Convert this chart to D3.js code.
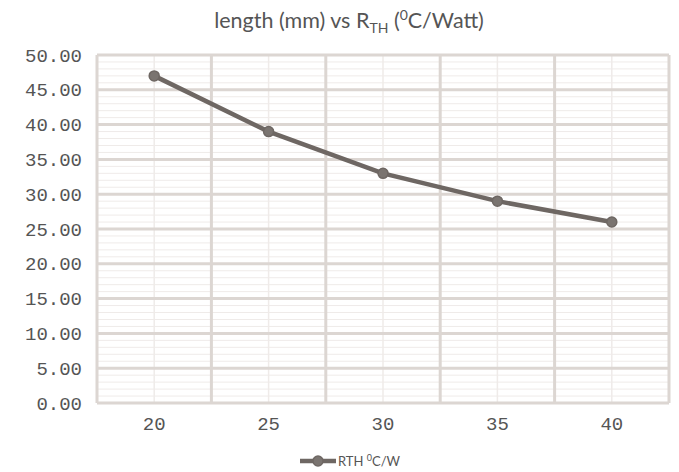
<!DOCTYPE html>
<html>
<head>
<meta charset="utf-8">
<script src="https://cdn.jsdelivr.net/npm/d3@7"></script>
<style>
  body { margin: 0; background: #fff; }
</style>
</head>
<body>
<svg id="chart" width="679" height="472"></svg>
<script>
// values
const lengths = ['20', '25', '30', '35', '40'];
const rthValues = [47, 39, 33, 29, 26];
const yTicks = [0, 5, 10, 15, 20, 25, 30, 35, 40, 45, 50];
const seriesName = 'RTH';

const svg = d3.select('#chart');
const margin = {top: 55, right: 10, bottom: 68, left: 97};
const width = +svg.attr('width');
const height = +svg.attr('height');
const innerWidth = width - margin.left - margin.right;
const innerHeight = height - margin.top - margin.bottom - 1;
const monoFont = "'Liberation Mono', 'DejaVu Sans Mono', monospace";

const g = svg.append('g')
    .attr('transform', `translate(${margin.left}, ${margin.top})`);

const xScale = d3.scaleBand().domain(lengths).range([0, innerWidth]);
const yScale = d3.scaleLinear().domain([0, 50]).range([innerHeight, 0]);

// minor horizontal grid (every 1)
g.selectAll('.minor-h').data(d3.range(0, 51, 1).filter(v => v % 5 !== 0))
  .enter().append('line')
    .attr('x1', 0).attr('x2', innerWidth)
    .attr('y1', d => yScale(d)).attr('y2', d => yScale(d))
    .attr('stroke', '#efebe9').attr('stroke-width', 1);

// thin vertical lines at category centres
g.selectAll('.minor-v').data(lengths)
  .enter().append('line')
    .attr('x1', d => xScale(d) + xScale.bandwidth() / 2)
    .attr('x2', d => xScale(d) + xScale.bandwidth() / 2)
    .attr('y1', 0).attr('y2', innerHeight)
    .attr('stroke', '#efebe9').attr('stroke-width', 1.5);

// major horizontal grid
g.selectAll('.major-h').data(yTicks)
  .enter().append('line')
    .attr('x1', 0).attr('x2', innerWidth)
    .attr('y1', d => yScale(d)).attr('y2', d => yScale(d))
    .attr('stroke', '#dcd6d2').attr('stroke-width', 3);

// vertical lines at category boundaries
const bounds = lengths.map(d => xScale(d)).concat([innerWidth]);
g.selectAll('.major-v').data(bounds)
  .enter().append('line')
    .attr('x1', d => d).attr('x2', d => d)
    .attr('y1', 0).attr('y2', innerHeight)
    .attr('stroke', '#dcd6d2').attr('stroke-width', 3);

// y axis labels
const yAxis = d3.axisLeft(yScale).tickValues(yTicks).tickFormat(d3.format('.2f')).tickSize(0).tickPadding(15);
g.append('g').call(yAxis)
  .attr('font-family', monoFont).attr('font-size', 19)
  .call(a => a.select('.domain').remove())
  .selectAll('text').attr('fill', '#555');

// x axis labels
const xAxis = d3.axisBottom(xScale).tickSize(0).tickPadding(14);
g.append('g').attr('transform', `translate(0, ${innerHeight})`).call(xAxis)
  .attr('font-family', monoFont).attr('font-size', 19)
  .call(a => a.select('.domain').remove())
  .selectAll('text').attr('fill', '#555');

// the series
const data = lengths.map((d, i) => ({len: d, rth: rthValues[i]}));
const line = d3.line()
    .x(d => xScale(d.len) + xScale.bandwidth() / 2)
    .y(d => yScale(d.rth));

g.append('path').datum(data)
    .attr('fill', 'none')
    .attr('stroke', '#6e6763')
    .attr('stroke-width', 4.5)
    .attr('d', line);

g.selectAll('.pt').data(data)
  .enter().append('circle')
    .attr('cx', d => xScale(d.len) + xScale.bandwidth() / 2)
    .attr('cy', d => yScale(d.rth))
    .attr('r', 5)
    .attr('fill', '#7a7470')
    .attr('stroke', '#6e6763')
    .attr('stroke-width', 1.5);

// title
const title = svg.append('text')
    .attr('x', 349).attr('y', 28)
    .attr('text-anchor', 'middle')
    .attr('font-family', "Lato, 'Open Sans', sans-serif")
    .attr('font-size', 21.5)
    .attr('fill', '#555');
title.append('tspan').text('length (mm) vs R');
title.append('tspan').attr('baseline-shift', -5).attr('font-size', 14).text('TH');
title.append('tspan').text(' (');
title.append('tspan').attr('baseline-shift', 8).attr('font-size', 14).text('0');
title.append('tspan').text('C/Watt)');

// legend
const leg = svg.append('g').attr('transform', 'translate(300, 461)');
leg.append('line').attr('x1', 0).attr('x2', 36).attr('y1', 0).attr('y2', 0)
    .attr('stroke', '#6e6763').attr('stroke-width', 4.5);
leg.append('circle').attr('cx', 18).attr('cy', 0).attr('r', 5)
    .attr('fill', '#7a7470').attr('stroke', '#6e6763').attr('stroke-width', 1.5);
const legText = leg.append('text').attr('x', 38).attr('y', 5)
    .attr('font-family', "Lato, 'Open Sans', sans-serif")
    .attr('font-size', 13)
    .attr('fill', '#555');
legText.append('tspan').text(seriesName + ' ');
legText.append('tspan').attr('baseline-shift', 5).attr('font-size', 9).text('0');
legText.append('tspan').text('C/W');
</script>
</body>
</html>
